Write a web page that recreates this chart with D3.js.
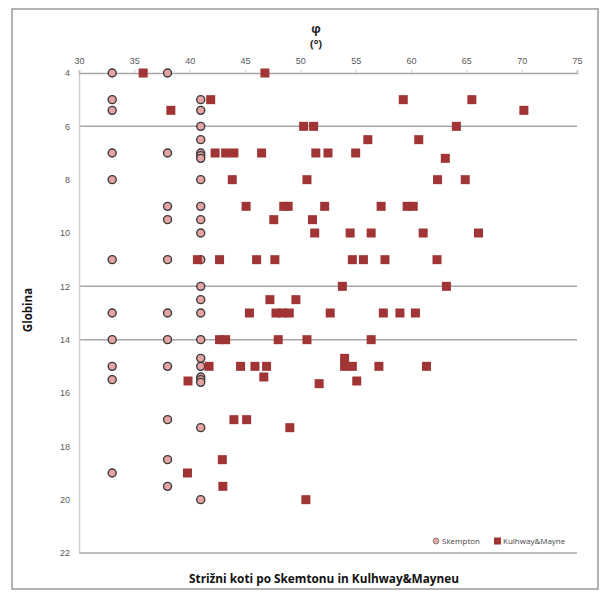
<!DOCTYPE html>
<html>
<head>
<meta charset="utf-8">
<script src="https://cdn.jsdelivr.net/npm/d3@7"></script>
<style>
  html, body { margin: 0; padding: 0; background: #fff; }
  svg { display: block; font-family: "Open Sans", "Liberation Sans", sans-serif; }
</style>
</head>
<body>
<div id="chart"></div>
<script>
// depth (m), friction angle (deg)
const skempton = [
  [4, 33], [4, 38],
  [5, 33], [5, 41],
  [5.4, 33], [5.4, 41],
  [6, 41],
  [6.5, 41],
  [7, 33], [7, 38], [7, 41], [7.1, 41], [7.2, 41],
  [8, 33], [8, 41],
  [9, 38], [9, 41],
  [9.5, 38], [9.5, 41],
  [10, 41],
  [11, 33], [11, 38], [11, 41],
  [12, 41],
  [12.5, 41],
  [13, 33], [13, 38], [13, 41],
  [14, 33], [14, 38], [14, 41],
  [14.7, 41],
  [15, 33], [15, 38], [15, 41],
  [15.4, 41], [15.5, 33], [15.5, 41], [15.6, 41],
  [17, 38],
  [17.3, 41],
  [18.5, 38],
  [19, 33],
  [19.5, 38],
  [20, 41]
];

const kulhwayMayne = [
  [4, 35.8], [4, 46.8],
  [5, 41.9], [5, 59.3], [5, 65.5],
  [5.4, 38.3], [5.4, 70.2],
  [6, 50.3], [6, 51.2], [6, 64.1],
  [6.5, 56.1], [6.5, 60.7],
  [7, 42.3], [7, 43.25], [7, 44.0], [7, 46.5], [7, 51.4], [7, 52.5], [7, 55.0],
  [7.2, 63.1],
  [8, 43.85], [8, 50.6], [8, 62.4], [8, 64.9],
  [9, 45.1], [9, 48.5], [9, 48.9], [9, 52.2], [9, 57.3], [9, 59.65], [9, 60.2],
  [9.5, 47.6], [9.5, 51.1],
  [10, 51.3], [10, 54.5], [10, 56.4], [10, 61.1], [10, 66.1],
  [11, 40.7], [11, 42.7], [11, 46.05], [11, 47.7], [11, 54.7], [11, 55.7], [11, 57.65], [11, 62.35],
  [12, 53.8], [12, 63.2],
  [12.5, 47.25], [12.5, 49.6],
  [13, 45.4], [13, 47.8], [13, 48.4], [13, 49.0], [13, 52.7], [13, 57.5], [13, 59.0], [13, 60.4],
  [14, 42.7], [14, 43.25], [14, 48.0], [14, 50.6], [14, 56.4],
  [14.7, 54.0],
  [15, 41.75], [15, 44.6], [15, 45.9], [15, 46.95], [15, 54.0], [15, 54.7], [15, 57.1], [15, 61.4],
  [15.4, 46.7],
  [15.55, 39.85], [15.55, 55.1],
  [15.65, 51.7],
  [17, 44.0], [17, 45.15],
  [17.3, 49.05],
  [18.5, 42.95],
  [19, 39.8],
  [19.5, 43.0],
  [20, 50.5]
];

const xTicks = [30, 35, 40, 45, 50, 55, 60, 65, 70, 75];
const yTicks = [4, 6, 8, 10, 12, 14, 16, 18, 20, 22];
const gridDepths = [6, 12, 14, 22];
const seriesNames = ['Skempton', 'Kulhway&Mayne'];

const width = 603, height = 594;
const circleFill = '#e6a3a3', circleStroke = '#3a3a3a';
const squareFill = '#a13535';

const svg = d3.select('#chart').append('svg')
  .attr('width', width)
  .attr('height', height);

// outer frame
svg.append('rect')
  .attr('x', 12).attr('y', 9)
  .attr('width', 586).attr('height', 580)
  .attr('fill', 'none')
  .attr('stroke', '#9a9a9a')
  .attr('stroke-width', 1.5);

const x = d3.scaleLinear().domain([30, 75]).range([79, 577]);
const y = d3.scaleLinear().domain([4, 22]).range([73, 553]);

// horizontal grid lines
svg.append('g').selectAll('line')
  .data(gridDepths)
  .join('line')
  .attr('x1', x(30)).attr('x2', x(75))
  .attr('y1', d => y(d)).attr('y2', d => y(d))
  .attr('stroke', '#a6a6a6')
  .attr('stroke-width', 1.5);

// left axis
const yAxis = svg.append('g')
  .attr('transform', `translate(${x(30)},0)`)
  .call(d3.axisLeft(y).tickValues(yTicks).tickSize(0).tickPadding(9));
yAxis.select('.domain').attr('stroke', '#d0d0d0').attr('stroke-width', 1.5);
yAxis.selectAll('text').attr('fill', '#595959').style('font-size', '9px');

// top axis (at depth 4)
const xAxis = svg.append('g')
  .attr('transform', `translate(0,${y(4)})`)
  .call(d3.axisTop(x).tickValues(xTicks).tickSize(3).tickSizeOuter(3).tickPadding(6));
xAxis.select('.domain').attr('stroke', '#a6a6a6').attr('stroke-width', 1.5);
xAxis.selectAll('.tick line').attr('stroke', '#c8c8c8');
xAxis.selectAll('text').attr('fill', '#595959').style('font-size', '9px');

// Skempton circles
svg.append('g').selectAll('circle')
  .data(skempton)
  .join('circle')
  .attr('cx', d => x(d[1]))
  .attr('cy', d => y(d[0]))
  .attr('r', 4)
  .attr('fill', circleFill)
  .attr('stroke', circleStroke)
  .attr('stroke-width', 1.4);

// Kulhway&Mayne squares
const sq = 9;
svg.append('g').selectAll('rect')
  .data(kulhwayMayne)
  .join('rect')
  .attr('x', d => x(d[1]) - sq / 2)
  .attr('y', d => y(d[0]) - sq / 2)
  .attr('width', sq)
  .attr('height', sq)
  .attr('fill', squareFill);

// axis titles
svg.append('text')
  .attr('x', 316).attr('y', 33)
  .attr('text-anchor', 'middle')
  .attr('font-weight', 'bold')
  .attr('font-size', 12)
  .attr('fill', '#222')
  .text('φ');
svg.append('text')
  .attr('x', 316).attr('y', 48)
  .attr('text-anchor', 'middle')
  .attr('font-weight', 'bold')
  .attr('font-size', 11)
  .attr('fill', '#222')
  .text('(°)');

svg.append('text')
  .attr('transform', 'translate(32,310) rotate(-90)')
  .attr('text-anchor', 'middle')
  .attr('font-weight', 'bold')
  .attr('font-size', 11.5)
  .attr('fill', '#111')
  .text('Globina');

svg.append('text')
  .attr('x', 324).attr('y', 583)
  .attr('text-anchor', 'middle')
  .attr('font-weight', 'bold')
  .attr('font-size', 11.8)
  .attr('fill', '#111')
  .text('Strižni koti po Skemtonu in Kulhway&Mayneu');

// legend
const legend = svg.append('g').attr('transform', 'translate(0,541)');
legend.append('circle')
  .attr('cx', 436).attr('cy', 0).attr('r', 3)
  .attr('fill', circleFill).attr('stroke', '#777').attr('stroke-width', 0.8);
legend.append('text')
  .attr('x', 442).attr('y', 3)
  .attr('font-size', 8).attr('fill', '#444')
  .text(seriesNames[0]);
legend.append('rect')
  .attr('x', 494).attr('y', -3.5).attr('width', 7).attr('height', 7)
  .attr('fill', squareFill);
legend.append('text')
  .attr('x', 503).attr('y', 3)
  .attr('font-size', 8).attr('fill', '#444')
  .text(seriesNames[1]);
</script>
</body>
</html>
